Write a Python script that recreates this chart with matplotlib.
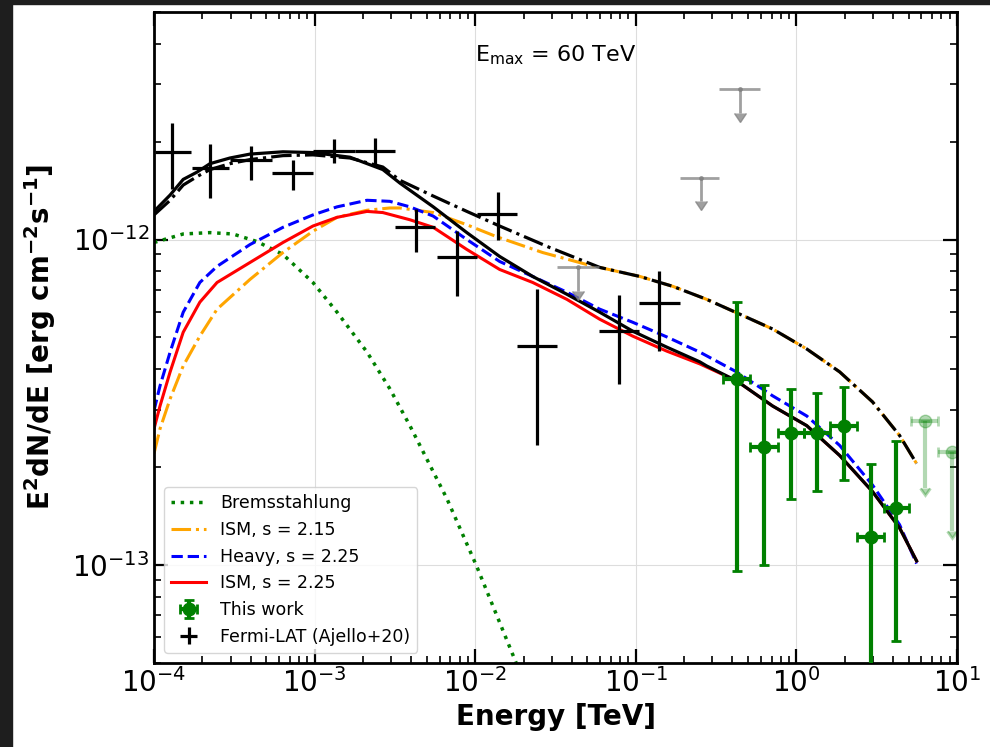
import numpy as np
import matplotlib
matplotlib.use("Agg")
from matplotlib import pyplot as plt
from matplotlib.patches import Rectangle

# ---- model curves (E in TeV, E^2 dN/dE in erg cm^-2 s^-1) ----
brems_E = [1.0e-4, 1.52e-4, 2.23e-4, 3.10e-4, 4.37e-4, 6.35e-4, 9.76e-4, 1.38e-3,
           2.12e-3, 2.94e-3, 3.92e-3, 6.66e-3, 1.02e-2, 1.8e-2]
brems_F = [9.79e-13, 1.04e-12, 1.05e-12, 1.04e-12, 9.86e-13, 9.00e-13, 7.38e-13, 5.98e-13,
           4.51e-13, 3.48e-13, 2.68e-13, 1.60e-13, 9.93e-14, 5.0e-14]

red_E = [1.0e-4, 1.09e-4, 1.26e-4, 1.52e-4, 1.93e-4, 2.47e-4, 3.96e-4, 6.35e-4, 9.76e-4, 1.38e-3,
         2.12e-3, 2.66e-3, 3.92e-3, 5.48e-3, 8.87e-3, 1.42e-2, 2.28e-2, 3.72e-2, 5.96e-2,
         9.56e-2, 0.156, 0.250, 0.424, 0.711, 1.16, 1.86, 2.98, 4.39, 5.60]
red_F = [2.62e-13, 3.08e-13, 3.92e-13, 5.19e-13, 6.42e-13, 7.38e-13, 8.50e-13, 9.79e-13, 1.10e-12, 1.17e-12,
         1.22e-12, 1.21e-12, 1.15e-12, 1.09e-12, 9.32e-13, 8.09e-13, 7.38e-13, 6.55e-13, 5.69e-13,
         5.05e-13, 4.54e-13, 4.15e-13, 3.68e-13, 3.08e-13, 2.68e-13, 2.17e-13, 1.68e-13, 1.30e-13, 1.03e-13]

heavy_E = [1.0e-4, 1.09e-4, 1.26e-4, 1.52e-4, 1.93e-4, 2.47e-4, 3.96e-4, 6.35e-4, 9.76e-4, 1.38e-3,
           2.12e-3, 2.94e-3, 3.92e-3, 5.48e-3, 8.87e-3, 1.42e-2, 2.28e-2, 3.72e-2, 5.96e-2,
           9.56e-2, 0.156, 0.250, 0.424, 0.711, 1.16, 1.86, 2.98, 4.39, 5.60]
heavy_F = [2.98e-13, 3.55e-13, 4.51e-13, 5.98e-13, 7.38e-13, 8.27e-13, 9.65e-13, 1.09e-12, 1.19e-12, 1.26e-12,
           1.32e-12, 1.31e-12, 1.26e-12, 1.18e-12, 1.00e-12, 8.56e-13, 7.70e-13, 6.89e-13, 6.11e-13,
           5.57e-13, 5.02e-13, 4.51e-13, 3.92e-13, 3.31e-13, 2.87e-13, 2.33e-13, 1.76e-13, 1.33e-13, 1.01e-13]

ism215_E = [1.0e-4, 1.09e-4, 1.26e-4, 1.52e-4, 1.93e-4, 2.47e-4, 3.96e-4, 6.35e-4, 9.76e-4, 1.38e-3,
            2.12e-3, 2.94e-3, 3.40e-3, 5.48e-3, 8.87e-3, 1.36e-2, 2.63e-2, 4.95e-2, 5.96e-2,
            0.106, 0.170, 0.276, 0.443, 0.711, 1.16, 1.86, 2.98, 4.39, 5.60]
ism215_F = [2.20e-13, 2.62e-13, 3.24e-13, 4.09e-13, 5.05e-13, 6.11e-13, 7.54e-13, 9.12e-13, 1.06e-12, 1.17e-12,
            1.23e-12, 1.25e-12, 1.25e-12, 1.21e-12, 1.11e-12, 1.02e-12, 9.12e-13, 8.38e-13, 8.21e-13,
            7.70e-13, 7.18e-13, 6.55e-13, 5.90e-13, 5.31e-13, 4.61e-13, 3.92e-13, 3.17e-13, 2.50e-13, 2.05e-13]

tot225_E = [1.0e-4, 1.26e-4, 1.52e-4, 1.85e-4, 2.23e-4, 2.97e-4, 3.96e-4, 6.35e-4, 9.76e-4, 1.66e-3,
            2.66e-3, 3.40e-3, 5.48e-3, 8.87e-3, 1.42e-2, 2.28e-2, 3.72e-2, 5.96e-2, 9.56e-2,
            0.156, 0.250, 0.276, 0.424, 0.711, 1.16, 1.86, 2.98, 4.39, 5.60]
tot225_F = [1.22e-12, 1.37e-12, 1.53e-12, 1.61e-12, 1.71e-12, 1.78e-12, 1.83e-12, 1.86e-12, 1.85e-12,
            1.79e-12, 1.64e-12, 1.49e-12, 1.26e-12, 1.05e-12, 8.87e-13, 7.70e-13, 6.79e-13, 5.98e-13,
            5.23e-13, 4.67e-13, 4.21e-13, 4.09e-13, 3.68e-13, 3.08e-13, 2.68e-13, 2.17e-13, 1.68e-13,
            1.30e-13, 1.03e-13]

tot215_E = [1.0e-4, 1.26e-4, 1.52e-4, 1.85e-4, 2.23e-4, 2.97e-4, 3.96e-4, 6.35e-4, 9.76e-4, 1.66e-3,
            2.66e-3, 3.40e-3, 5.48e-3, 8.87e-3, 1.42e-2, 2.91e-2, 5.96e-2, 0.106, 0.170, 0.276, 0.443,
            0.711, 1.16, 1.86, 2.98, 4.39, 5.60]
tot215_F = [1.19e-12, 1.32e-12, 1.47e-12, 1.56e-12, 1.64e-12, 1.71e-12, 1.76e-12, 1.81e-12, 1.82e-12,
            1.78e-12, 1.67e-12, 1.52e-12, 1.36e-12, 1.22e-12, 1.10e-12, 9.45e-13, 8.21e-13, 7.70e-13,
            7.18e-13, 6.55e-13, 5.90e-13, 5.31e-13, 4.61e-13, 3.92e-13, 3.17e-13, 2.50e-13, 2.05e-13]

# ---- Fermi-LAT (Ajello+20) ----
lat_E = [1.29e-4, 2.23e-4, 4.02e-4, 7.33e-4, 1.32e-3, 2.37e-3, 4.27e-3, 7.67e-3, 1.38e-2,
         2.42e-2, 7.83e-2, 0.139]
lat_Elo = [1.01e-4, 1.72e-4, 2.97e-4, 5.42e-4, 9.8e-4, 1.78e-3, 3.16e-3, 5.77e-3, 1.02e-2,
           1.82e-2, 5.88e-2, 0.104]
lat_Ehi = [1.70e-4, 2.93e-4, 5.42e-4, 9.76e-4, 1.78e-3, 3.16e-3, 5.61e-3, 1.02e-2, 1.82e-2,
           3.22e-2, 0.104, 0.188]
lat_F = [1.86e-12, 1.66e-12, 1.75e-12, 1.60e-12, 1.87e-12, 1.87e-12, 1.09e-12, 8.81e-13, 1.20e-12,
         4.71e-13, 5.24e-13, 6.37e-13]
lat_Flo = [1.43e-12, 1.34e-12, 1.52e-12, 1.42e-12, 1.72e-12, 1.69e-12, 9.13e-13, 6.70e-13, 1.00e-12,
           2.33e-13, 3.61e-13, 4.54e-13]
lat_Fhi = [2.28e-12, 1.97e-12, 1.94e-12, 1.75e-12, 2.04e-12, 2.05e-12, 1.24e-12, 1.06e-12, 1.40e-12,
           7.03e-13, 6.74e-13, 7.98e-13]

lat_ul_E = [4.35e-2, 0.254, 0.444]
lat_ul_Elo = [3.22e-2, 0.188, 0.328]
lat_ul_Ehi = [5.88e-2, 0.328, 0.590]
lat_ul_F = [8.21e-13, 1.55e-12, 2.90e-12]
lat_ul_end = [6.93e-13, 1.31e-12, 2.44e-12]

# ---- This work ----
tw_E = [0.425, 0.625, 0.920, 1.34, 1.97, 2.90, 4.20]
tw_Elo = [0.348, 0.512, 0.764, 1.12, 1.61, 2.40, 3.49]
tw_Ehi = [0.512, 0.764, 1.12, 1.61, 2.40, 3.49, 5.06]
tw_F = [3.73e-13, 2.30e-13, 2.55e-13, 2.54e-13, 2.68e-13, 1.22e-13, 1.50e-13]
tw_Flo = [9.59e-14, 1.00e-13, 1.59e-13, 1.69e-13, 1.82e-13, 1.0e-15, 5.86e-14]
tw_Fhi = [6.41e-13, 3.58e-13, 3.48e-13, 3.38e-13, 3.52e-13, 2.05e-13, 2.41e-13]

tw_ul_E = [6.28, 9.25]
tw_ul_Elo = [5.14, 7.57]
tw_ul_Ehi = [7.57, 11.3]
tw_ul_F = [2.77e-13, 2.23e-13]
tw_ul_end = [1.73e-13, 1.27e-13]


def asym(c, lo, hi):
    c, lo, hi = np.array(c), np.array(lo), np.array(hi)
    return [c - lo, hi - c]


fig = plt.figure(figsize=(9.9, 7.47), dpi=100)
fig.patches.append(Rectangle((0, 0), 12 / 990, 1, transform=fig.transFigure,
                             color="#1e1e1e", zorder=-10))
fig.patches.append(Rectangle((0, 1 - 4 / 747), 1, 4 / 747, transform=fig.transFigure,
                             color="#1e1e1e", zorder=-10))
ax = fig.add_axes([154 / 990, 1 - 663 / 747, 803 / 990, 651 / 747])

ax.plot(brems_E, brems_F, ls=":", color="green", lw=2.5, label="Bremsstahlung")
ax.plot(ism215_E, ism215_F, ls="-.", color="orange", lw=2.2, label="ISM, s = 2.15")
ax.plot(heavy_E, heavy_F, ls="--", color="blue", lw=2.2, label="Heavy, s = 2.25")
ax.plot(red_E, red_F, ls="-", color="red", lw=2.2, label="ISM, s = 2.25")
ax.plot(tot225_E, tot225_F, ls="-", color="black", lw=2.3)
ax.plot(tot215_E, tot215_F, ls="-.", color="black", lw=2.3)

ax.errorbar(tw_E, tw_F, xerr=asym(tw_E, tw_Elo, tw_Ehi), yerr=asym(tw_F, tw_Flo, tw_Fhi),
            fmt="o", color="green", ms=9, elinewidth=3, capsize=3.5, capthick=2,
            label="This work", zorder=5)
tw_ul_err = np.array(tw_ul_F) - np.array(tw_ul_end)
ax.errorbar(tw_ul_E, tw_ul_F, xerr=asym(tw_ul_E, tw_ul_Elo, tw_ul_Ehi), yerr=tw_ul_err,
            uplims=True, fmt="o", color="green", alpha=0.3, ms=9, elinewidth=3,
            capsize=3.5, capthick=2)

ax.errorbar(lat_E, lat_F, xerr=asym(lat_E, lat_Elo, lat_Ehi), yerr=asym(lat_F, lat_Flo, lat_Fhi),
            fmt="none", ecolor="black", elinewidth=2.3, label="Fermi-LAT (Ajello+20)", zorder=4)
lat_ul_err = np.array(lat_ul_F) - np.array(lat_ul_end)
_, ul_caps, _ = ax.errorbar(lat_ul_E, lat_ul_F, xerr=asym(lat_ul_E, lat_ul_Elo, lat_ul_Ehi),
                            yerr=lat_ul_err, uplims=True, fmt=".", color="gray", alpha=0.75,
                            ms=5, elinewidth=2, capsize=0)
for c in ul_caps:
    c.set_markersize(9)

ax.set_xscale("log")
ax.set_yscale("log")
ax.set_xlim(1e-4, 1e1)
ax.set_ylim(5e-14, 5e-12)
ax.grid(True, which="major", color="#dddddd", lw=0.8)
ax.tick_params(which="both", direction="in", top=True, right=True, labelsize=20)
ax.tick_params(which="major", length=10, width=1.6)
ax.tick_params(which="minor", length=5, width=1.2)
for s in ax.spines.values():
    s.set_linewidth(2)

ax.set_xlabel("Energy [TeV]", fontsize=20, fontweight="bold")
ax.set_ylabel(r"E$^{\mathbf{2}}$dN/dE [erg cm$^{\mathbf{-2}}$s$^{\mathbf{-1}}$]",
              fontsize=20, fontweight="bold", labelpad=10)
ax.text(0.40, 0.934, r"E$_{\rm max}$ = 60 TeV", transform=ax.transAxes,
        fontsize=16, ha="left", va="center")

ax.legend(loc="lower left", fontsize=12.5, framealpha=0.8, borderaxespad=0.6)

fig.savefig("out.png", dpi=100)
